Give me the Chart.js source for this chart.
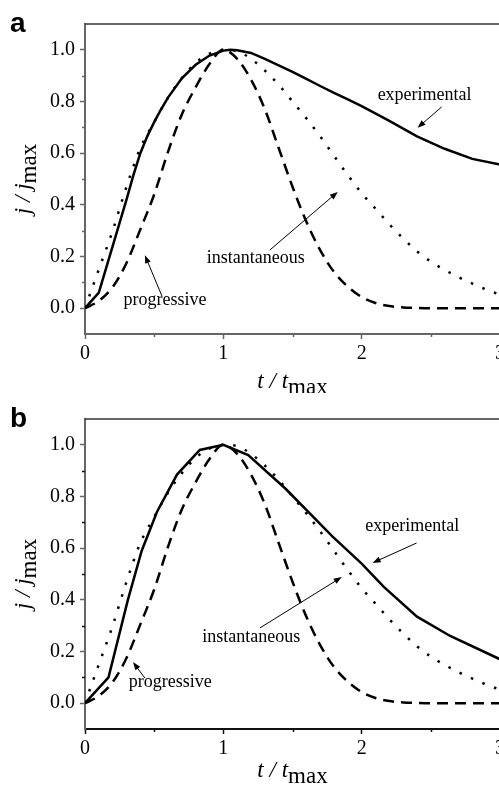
<!DOCTYPE html>
<html>
<head>
<meta charset="utf-8">
<title>Normalised current transients</title>
<script src="https://cdn.jsdelivr.net/npm/chart.js@4.4.1/dist/chart.umd.min.js"></script>
<style>
  html, body { margin: 0; padding: 0; background: #fff; overflow: hidden; }
  .wrap { position: relative; width: 499px; height: 787px; overflow: hidden; }
  .wrap canvas { position: absolute; left: 0; }
  #panelA { top: 0; }
  #panelB { top: 393px; }
</style>
</head>
<body>
<div class="wrap">
  <canvas id="panelA" width="512" height="393"></canvas>
  <canvas id="panelB" width="512" height="394"></canvas>
</div>
<script>
  // theoretical transients, same in both panels
  const tTheory = [0, 0.1, 0.2, 0.3, 0.4, 0.5, 0.6, 0.7, 0.8, 0.9, 1.0,
    1.1, 1.2, 1.3, 1.4, 1.5, 1.6, 1.7, 1.8, 1.9, 2.0,
    2.1, 2.2, 2.3, 2.4, 2.5, 2.6, 2.7, 2.8, 2.9, 3.0];
  const jInstantaneous = [0, 0.15, 0.30, 0.47, 0.62, 0.72, 0.815, 0.89, 0.95, 0.985, 1.0,
    0.995, 0.965, 0.92, 0.865, 0.80, 0.735, 0.665, 0.59, 0.515, 0.445,
    0.385, 0.325, 0.27, 0.22, 0.18, 0.148, 0.12, 0.095, 0.072, 0.052];
  const jProgressive = [0, 0.028, 0.082, 0.175, 0.305, 0.44, 0.605, 0.75, 0.855, 0.945, 1.0,
    0.965, 0.885, 0.77, 0.62, 0.47, 0.335, 0.225, 0.14, 0.083, 0.043,
    0.02, 0.008, 0.003, 0.001, 0, 0, 0, 0, 0, 0];

  // measured transients
  const tExpA = [0, 0.1, 0.3, 0.35, 0.4, 0.45, 0.5, 0.55, 0.6, 0.7, 0.8, 0.9, 1.0, 1.05, 1.1,
    1.2, 1.3, 1.4, 1.5, 1.6, 1.7, 1.8, 1.9, 2.0, 2.2, 2.4, 2.6, 2.8, 3.0];
  const jExpA = [0, 0.06, 0.42, 0.515, 0.60, 0.665, 0.72, 0.77, 0.815, 0.89, 0.942, 0.978, 0.997, 1.0, 0.998,
    0.988, 0.965, 0.94, 0.915, 0.888, 0.86, 0.833, 0.808, 0.782, 0.725, 0.665, 0.617, 0.578, 0.556];

  const tExpB = [0, 0.17, 0.31, 0.41, 0.52, 0.665, 0.83, 1.0, 1.18, 1.45,
    1.79, 2.0, 2.16, 2.4, 2.64, 3.0];
  const jExpB = [0, 0.10, 0.40, 0.59, 0.74, 0.885, 0.98, 1.0, 0.96, 0.83,
    0.645, 0.54, 0.45, 0.335, 0.26, 0.17];

  const xTicks = [0, 1, 2, 3];
  const xMinor = [0.5, 1.5, 2.5];
  const yTicks = [0, 0.2, 0.4, 0.6, 0.8, 1.0];
  const yMinor = [0.1, 0.3, 0.5, 0.7, 0.9];

  const SERIF = '"Liberation Serif", "Times New Roman", serif';

  function points(ts, js) {
    return ts.map((t, i) => ({ x: t, y: js[i] }));
  }

  // italic variable followed by an upright "max" subscript
  function drawVarLabel(ctx, main, sub, cx, baseY) {
    ctx.font = "italic 23px " + SERIF;
    const w1 = ctx.measureText(main).width;
    ctx.font = "23px " + SERIF;
    const w2 = ctx.measureText(sub).width;
    const x0 = cx - (w1 + w2) / 2;
    ctx.textAlign = "left";
    ctx.textBaseline = "alphabetic";
    ctx.font = "italic 23px " + SERIF;
    ctx.fillText(main, x0, baseY);
    ctx.font = "23px " + SERIF;
    ctx.fillText(sub, x0 + w1, baseY + 6);
  }

  function arrow(ctx, x1, y1, x2, y2) {
    const ang = Math.atan2(y2 - y1, x2 - x1);
    const len = 8, half = 3;
    ctx.beginPath();
    ctx.moveTo(x1, y1);
    ctx.lineTo(x2 - Math.cos(ang) * len * 0.8, y2 - Math.sin(ang) * len * 0.8);
    ctx.stroke();
    ctx.beginPath();
    ctx.moveTo(x2, y2);
    ctx.lineTo(x2 - Math.cos(ang) * len - Math.sin(ang) * half, y2 - Math.sin(ang) * len + Math.cos(ang) * half);
    ctx.lineTo(x2 - Math.cos(ang) * len + Math.sin(ang) * half, y2 - Math.sin(ang) * len - Math.cos(ang) * half);
    ctx.closePath();
    ctx.fill();
  }

  const panelDecor = {
    id: "panelDecor",
    afterDraw(chart, args, opts) {
      const { ctx, chartArea: area } = chart;
      const x = chart.scales.x, y = chart.scales.y;
      ctx.save();

      // top frame
      ctx.strokeStyle = "#333";
      ctx.lineWidth = 1.5;
      ctx.beginPath();
      ctx.moveTo(area.left, area.top);
      ctx.lineTo(chart.width, area.top);
      ctx.stroke();

      // minor ticks
      ctx.strokeStyle = opts.axisColor;
      ctx.lineWidth = 1.5;
      yMinor.forEach(v => {
        const py = Math.round(y.getPixelForValue(v)) + 0.5;
        ctx.beginPath();
        ctx.moveTo(area.left - 3, py);
        ctx.lineTo(area.left, py);
        ctx.stroke();
      });
      xMinor.forEach(v => {
        const px = Math.round(x.getPixelForValue(v)) + 0.5;
        ctx.beginPath();
        ctx.moveTo(px, area.bottom);
        ctx.lineTo(px, area.bottom + 3);
        ctx.stroke();
      });

      // axis titles
      ctx.fillStyle = "#000";
      drawVarLabel(ctx, "t / t", "max", (area.left + area.right) / 2, opts.xTitleY);
      ctx.save();
      ctx.translate(30, (area.top + area.bottom) / 2);
      ctx.rotate(-Math.PI / 2);
      drawVarLabel(ctx, "j / j", "max", 0, 0);
      ctx.restore();

      // panel letter
      ctx.font = "bold 28px \"Liberation Sans\", Arial, sans-serif";
      ctx.textAlign = "left";
      ctx.textBaseline = "alphabetic";
      ctx.fillText(opts.letter, 10, opts.letterY);

      // curve labels with arrows
      ctx.font = "18px " + SERIF;
      ctx.textAlign = "center";
      ctx.strokeStyle = "#000";
      ctx.lineWidth = 1;
      opts.notes.forEach(n => {
        ctx.fillText(n.text, x.getPixelForValue(n.at[0]), y.getPixelForValue(n.at[1]));
        arrow(ctx,
          x.getPixelForValue(n.from[0]), y.getPixelForValue(n.from[1]),
          x.getPixelForValue(n.to[0]), y.getPixelForValue(n.to[1]));
      });

      ctx.restore();
    }
  };

  function makePanel(canvasId, tExp, jExp, decor) {
    const axisColor = decor.axisColor;
    new Chart(document.getElementById(canvasId).getContext("2d"), {
      type: "line",
      data: {
        datasets: [
          {
            label: "experimental",
            data: points(tExp, jExp),
            borderColor: "#000",
            borderWidth: 2.5,
            tension: 0,
          },
          {
            label: "instantaneous",
            data: points(tTheory, jInstantaneous),
            borderColor: "#000",
            borderWidth: 2.5,
            borderDash: [2.5, 10],
            cubicInterpolationMode: "monotone",
          },
          {
            label: "progressive",
            data: points(tTheory, jProgressive),
            borderColor: "#000",
            borderWidth: 2.5,
            borderDash: [11, 7],
            cubicInterpolationMode: "monotone",
          },
        ],
      },
      options: {
        responsive: false,
        animation: false,
        events: [],
        elements: { point: { radius: 0 } },
        layout: { padding: { left: 0, top: decor.top, right: 12, bottom: 0 } },
        plugins: {
          legend: { display: false },
          tooltip: { enabled: false },
          panelDecor: decor,
        },
        scales: {
          x: {
            type: "linear",
            min: 0,
            max: 3,
            afterBuildTicks: s => { s.ticks = xTicks.map(v => ({ value: v })); },
            afterFit: s => { s.height = decor.xHeight; },
            ticks: {
              autoSkip: false,
              maxRotation: 0,
              padding: 3,
              color: "#000",
              font: { family: SERIF, size: 20 },
              callback: v => String(v),
            },
            grid: { drawOnChartArea: false, tickLength: 5, tickWidth: 1.5, color: axisColor },
            border: { color: axisColor, width: 2 },
          },
          y: {
            min: -0.1,
            max: 1.1,
            afterBuildTicks: s => { s.ticks = yTicks.map(v => ({ value: v })); },
            afterFit: s => { s.width = 85; },
            ticks: {
              autoSkip: false,
              padding: 5,
              color: "#000",
              font: { family: SERIF, size: 20 },
              callback: v => v.toFixed(1),
            },
            grid: { drawOnChartArea: false, tickLength: 5, tickWidth: 1.5, color: "#666" },
            border: { color: "#666", width: 2 },
          },
        },
      },
      plugins: [panelDecor],
    });
  }

  makePanel("panelA", tExpA, jExpA, {
    letter: "a",
    letterY: 32,
    top: 24,
    xHeight: 59,
    xTitleY: 388,
    axisColor: "#666",
    notes: [
      { text: "experimental", at: [2.455, 0.806], from: [2.578, 0.779], to: [2.404, 0.698] },
      { text: "instantaneous", at: [1.235, 0.174], from: [1.336, 0.225], to: [1.827, 0.45] },
      { text: "progressive", at: [0.578, 0.012], from: [0.556, 0.047], to: [0.433, 0.205] },
    ],
  });

  makePanel("panelB", tExpB, jExpB, {
    letter: "b",
    letterY: 34,
    top: 26,
    xHeight: 58,
    xTitleY: 384,
    axisColor: "#111",
    notes: [
      { text: "experimental", at: [2.365, 0.667], from: [2.397, 0.62], to: [2.079, 0.543] },
      { text: "instantaneous", at: [1.202, 0.236], from: [1.264, 0.291], to: [1.856, 0.488] },
      { text: "progressive", at: [0.617, 0.062], from: [0.433, 0.097], to: [0.347, 0.159] },
    ],
  });
</script>
</body>
</html>
